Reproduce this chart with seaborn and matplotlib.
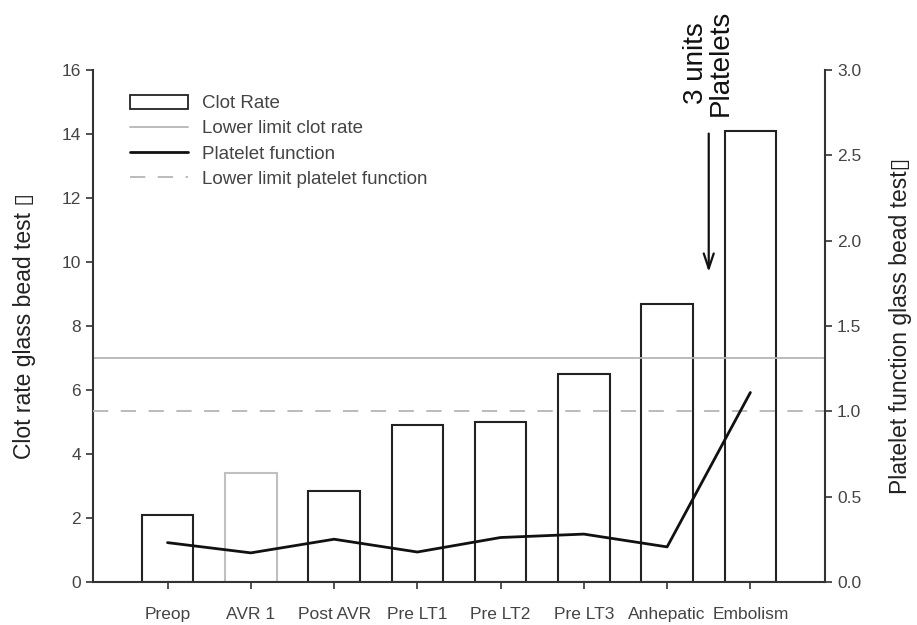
import numpy as np
import matplotlib as mpl
mpl.use("Agg")
import matplotlib.pyplot as plt
import seaborn as sns
from matplotlib.patches import Patch
from matplotlib.lines import Line2D

sns.set_theme(style="ticks")
plt.rcParams['font.family'] = ['Liberation Sans', 'DejaVu Sans']
plt.rcParams['lines.scale_dashes'] = False

# data
stages = ["Preop", "AVR 1", "Post AVR", "Pre LT1", "Pre LT2", "Pre LT3", "Anhepatic", "Embolism"]
clot_rate = [2.1, 3.4, 2.85, 4.9, 5.0, 6.5, 8.7, 14.1]
platelet_function = [0.23, 0.17, 0.25, 0.175, 0.26, 0.28, 0.205, 1.11]
clot_rate_limit = 7.0
platelet_limit = 1.0
left_ticks = [0, 2, 4, 6, 8, 10, 12, 14, 16]
right_ticks = [0.0, 0.5, 1.0, 1.5, 2.0, 2.5, 3.0]

# scanned figure: some bar outlines came out grey
edge_cols = ["#222222", "#c0c0c0", "#222222", "#222222", "#222222", "#222222", "#222222", "#222222"]
txt = "#444444"

fig = plt.figure(figsize=(9.17, 6.25), dpi=100)
ax = fig.add_axes([0.101, 0.069, 0.799, 0.819])

sns.barplot(x=stages, y=clot_rate, ax=ax, color="white", width=0.62,
            edgecolor="#222222", linewidth=1.5, saturation=1)
for bar, ec in zip(ax.patches, edge_cols):
    bar.set_edgecolor(ec)

ax.axhline(clot_rate_limit, color="#b5b5b5", lw=1.3)
ax.set_xlim(-0.9, 7.9)
ax.set_ylim(0, 16)
ax.set_yticks(left_ticks)
ax.set_yticklabels([str(t) for t in left_ticks])
ax.set_ylabel("Clot rate glass bead test \u25af", fontsize=16.5, color="#222222", labelpad=18)

ax2 = ax.twinx()
ax2.axhline(platelet_limit, color="#b5b5b5", lw=1.3, dashes=(11, 9))
sns.lineplot(x=np.arange(len(stages)), y=platelet_function, ax=ax2, color="#111111", lw=2)
ax2.set_ylim(0, 3.0)
ax2.set_yticks(right_ticks)
ax2.set_yticklabels([f"{t:.1f}" for t in right_ticks])
ax2.set_ylabel("Platelet function glass bead test\u25af", fontsize=16.5, color="#222222", labelpad=20)

for a in (ax, ax2):
    a.spines['top'].set_visible(False)
    for s in a.spines.values():
        s.set_linewidth(1.5)
        s.set_color("#333333")
    a.tick_params(direction="out", length=5, width=1.2, colors="#333333",
                  labelsize=12.5, labelcolor=txt)
ax.spines['right'].set_visible(False)
ax2.spines['left'].set_visible(False)
ax2.spines['bottom'].set_visible(False)
ax.tick_params(axis="x", labelsize=12.5, pad=13)

# platelet transfusion annotation
ax.annotate("", xy=(6.5, 9.6), xytext=(6.5, 14.1),
            arrowprops=dict(arrowstyle="->,head_length=0.9,head_width=0.3", lw=1.6,
                            color="#111111"))
ax.text(6.5, 14.55, "3 units\nPlatelets", rotation=90, ha="center", va="bottom",
        fontsize=20, color="#111111", clip_on=False, linespacing=0.95)

handles = [
    Patch(facecolor="white", edgecolor="#222222", linewidth=1.3),
    Line2D([], [], color="#b5b5b5", lw=1.3),
    Line2D([], [], color="#111111", lw=2),
    Line2D([], [], color="#b5b5b5", lw=1.3, dashes=(11, 9)),
]
labels = ["Clot Rate", "Lower limit clot rate", "Platelet function", "Lower limit platelet function"]
leg = ax.legend(handles, labels, loc="upper left", bbox_to_anchor=(0.028, 0.985), frameon=False,
                fontsize=13.5, handlelength=3.1, handleheight=0.8, labelspacing=0.4,
                handletextpad=0.75)
for t in leg.get_texts():
    t.set_color(txt)

fig.savefig("out.png", dpi=100)
